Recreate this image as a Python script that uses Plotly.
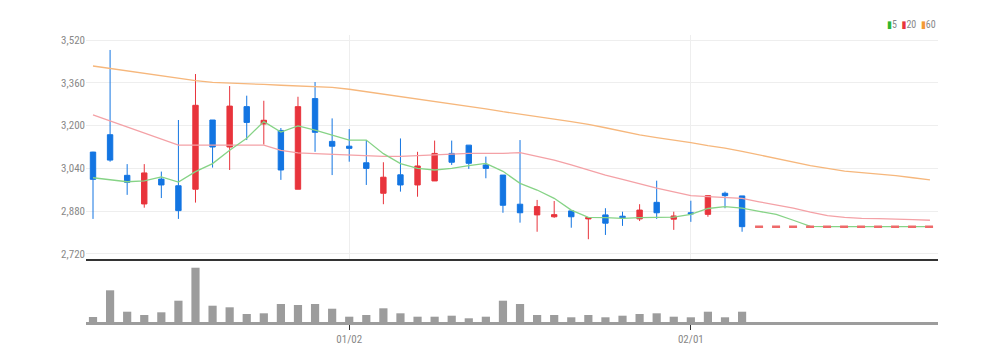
import plotly.graph_objects as go

# ---------------- data ----------------
n_slots = 50
slot_idx = list(range(n_slots))
candle_idx = list(range(39))
tick_positions = [15, 35]
tick_labels = ["01/02", "02/01"]

opens = [3101, 3166, 3014, 2907, 3000, 2975, 2962, 3221, 3120, 3271,
         3206, 3182, 2962, 3301, 3141, 3123, 3061, 2947, 3016, 2978,
         2993, 3096, 3127, 3053, 3015, 2906, 2866, 2859, 2881, 2851,
         2866, 2861, 2851, 2913, 2850, 2874, 2868, 2947, 2937]
highs = [3102, 3483, 3056, 3056, 3028, 3221, 3393, 3221, 3348, 3312,
         3293, 3191, 3308, 3363, 3227, 3187, 3146, 3063, 3152, 3102,
         3144, 3144, 3127, 3084, 3015, 3146, 2922, 2918, 2881, 2856,
         2891, 2878, 2906, 2994, 2878, 2919, 2938, 2953, 2937]
lows = [2851, 3065, 2941, 2893, 2929, 2851, 2912, 3043, 3034, 3146,
        3129, 2997, 2962, 3102, 3015, 3065, 2978, 2906, 2953, 2934,
        2993, 3053, 3038, 3003, 2874, 2837, 2803, 2855, 2818, 2775,
        2791, 2825, 2843, 2851, 2810, 2840, 2859, 2891, 2803]
closes = [2999, 3071, 2988, 3023, 2978, 2882, 3276, 3120, 3273, 3212,
          3220, 3034, 3271, 3175, 3123, 3115, 3040, 3007, 2978, 3049,
          3096, 3063, 3059, 3040, 2902, 2874, 2897, 2867, 2859, 2856,
          2835, 2855, 2884, 2874, 2862, 2870, 2938, 2938, 2822]
volumes = [5000, 31700, 10300, 7000, 9700, 21300, 54300, 16300, 14700, 8000,
           8700, 18000, 17000, 18000, 13300, 5300, 7000, 13700, 8700, 5300,
           5300, 6300, 3700, 5300, 21300, 18000, 7000, 7000, 4700, 7000,
           4700, 6300, 8000, 8700, 5300, 4700, 10300, 4700, 10300]

ma5 = [3005, 2997, 2990, 2993, 3008, 2989, 3028, 3058, 3108, 3153,
       3215, 3176, 3199, 3183, 3165, 3146, 3146, 3095, 3058, 3040,
       3034, 3040, 3050, 3059, 3029, 2984, 2959, 2928, 2884, 2857,
       2856, 2853, 2856, 2858, 2858, 2868, 2890, 2897, 2891, 2879,
       2868, 2846, 2823, 2822, 2822, 2822, 2822, 2822, 2822, 2822]
ma20 = [3240, 3217, 3194, 3171, 3149, 3127, 3127, 3127, 3127, 3127,
        3127, 3107, 3098, 3095, 3092, 3090, 3087, 3085, 3085, 3088,
        3092, 3094, 3096, 3096, 3096, 3099, 3086, 3071, 3053, 3034,
        3015, 2999, 2982, 2966, 2952, 2938, 2934, 2932, 2928, 2915,
        2903, 2891, 2876, 2863, 2857, 2853, 2852, 2851, 2848, 2846]
ma60 = [3423, 3414, 3405, 3395, 3386, 3377, 3368, 3362, 3360, 3357,
        3354, 3351, 3348, 3347, 3343, 3336, 3327, 3318, 3309, 3301,
        3292, 3283, 3273, 3263, 3252, 3242, 3232, 3224, 3215, 3205,
        3192, 3179, 3165, 3155, 3146, 3136, 3125, 3116, 3104, 3091,
        3078, 3064, 3050, 3040, 3030, 3024, 3019, 3013, 3005, 2997]

price_ticks = [2720, 2880, 3040, 3200, 3360, 3520]

# ---------------- styles ----------------
RED = "#e8343c"
BLUE = "#1375e2"
GREEN_MA = "#86d386"
RED_MA = "#f4a1a6"
ORANGE_MA = "#f6b77c"
FONT = "Noto Sans Condensed, Roboto Condensed, Liberation Sans Narrow, Arial Narrow, DejaVu Sans Condensed, sans-serif"

fig = go.Figure()

fig.add_trace(go.Scatter(x=slot_idx, y=ma60, mode="lines",
                         line=dict(color=ORANGE_MA, width=1.3),
                         xaxis="x", yaxis="y", showlegend=False, hoverinfo="skip"))
fig.add_trace(go.Scatter(x=slot_idx, y=ma20, mode="lines",
                         line=dict(color=RED_MA, width=1.3),
                         xaxis="x", yaxis="y", showlegend=False, hoverinfo="skip"))
fig.add_trace(go.Scatter(x=slot_idx, y=ma5, mode="lines",
                         line=dict(color=GREEN_MA, width=1.3),
                         xaxis="x", yaxis="y", showlegend=False, hoverinfo="skip"))

fig.add_trace(go.Candlestick(
    x=candle_idx, open=opens, high=highs, low=lows, close=closes,
    increasing=dict(line=dict(color=RED, width=1), fillcolor=RED),
    decreasing=dict(line=dict(color=BLUE, width=1), fillcolor=BLUE),
    whiskerwidth=0, xaxis="x", yaxis="y", showlegend=False))

# last close projected line (dashed)
fig.add_trace(go.Scatter(x=[38.76, 49.3], y=[closes[-1], closes[-1]], mode="lines",
                         line=dict(color="#ee6a6a", width=2.5, dash="8px,9px"),
                         xaxis="x", yaxis="y", showlegend=False, hoverinfo="skip"))

fig.add_trace(go.Bar(x=candle_idx, y=volumes, width=0.48,
                     marker=dict(color="#9c9c9c", line=dict(width=0)),
                     xaxis="x2", yaxis="y2", showlegend=False))

legend_txt = (f"<span style='color:#2fb52f'>▮</span>5  "
              f"<span style='color:#e8343c'>▮</span>20  "
              f"<span style='color:#f39a35'>▮</span>60")

xr = [-0.41, 49.47]
fig.update_layout(
    width=1001, height=361,
    margin=dict(l=86, r=63, t=35, b=39),
    paper_bgcolor="white", plot_bgcolor="white",
    boxgap=0.55,
    font=dict(family=FONT, size=11, color="#888888"),
    xaxis=dict(domain=[0, 1], anchor="y", range=xr, tickvals=tick_positions,
               showticklabels=False, showgrid=True, gridcolor="#eeeeee", gridwidth=1,
               showline=True, linecolor="#333333", linewidth=2, zeroline=False,
               rangeslider=dict(visible=False), fixedrange=True),
    yaxis=dict(domain=[0.2195, 1], anchor="x", range=[2701, 3539],
               tickvals=price_ticks, tickformat=",", showgrid=True,
               gridcolor="#eeeeee", gridwidth=1, zeroline=False, showline=False,
               tickfont=dict(size=11, color="#888888", family=FONT), ticks=""),
    xaxis2=dict(domain=[0, 1], anchor="y2", range=xr, tickvals=tick_positions,
                ticktext=tick_labels, showgrid=False, showline=True,
                linecolor="#9c9c9c", linewidth=3, ticks="outside", ticklen=5,
                tickcolor="#333333", tickwidth=1, zeroline=False,
                tickfont=dict(size=11, color="#888888", family=FONT)),
    yaxis2=dict(domain=[0, 0.209], anchor="x2", range=[0, 60000],
                showticklabels=False, showgrid=False, zeroline=False, showline=False),
    annotations=[dict(xref="paper", yref="paper", x=1.0, y=1.035,
                      xanchor="right", yanchor="middle", showarrow=False,
                      text=legend_txt, font=dict(size=10, color="#888888", family=FONT))],
)

fig.write_html("out.html", config={"displayModeBar": False},
               post_script="document.body.style.margin='0';document.body.style.overflow='hidden';")
